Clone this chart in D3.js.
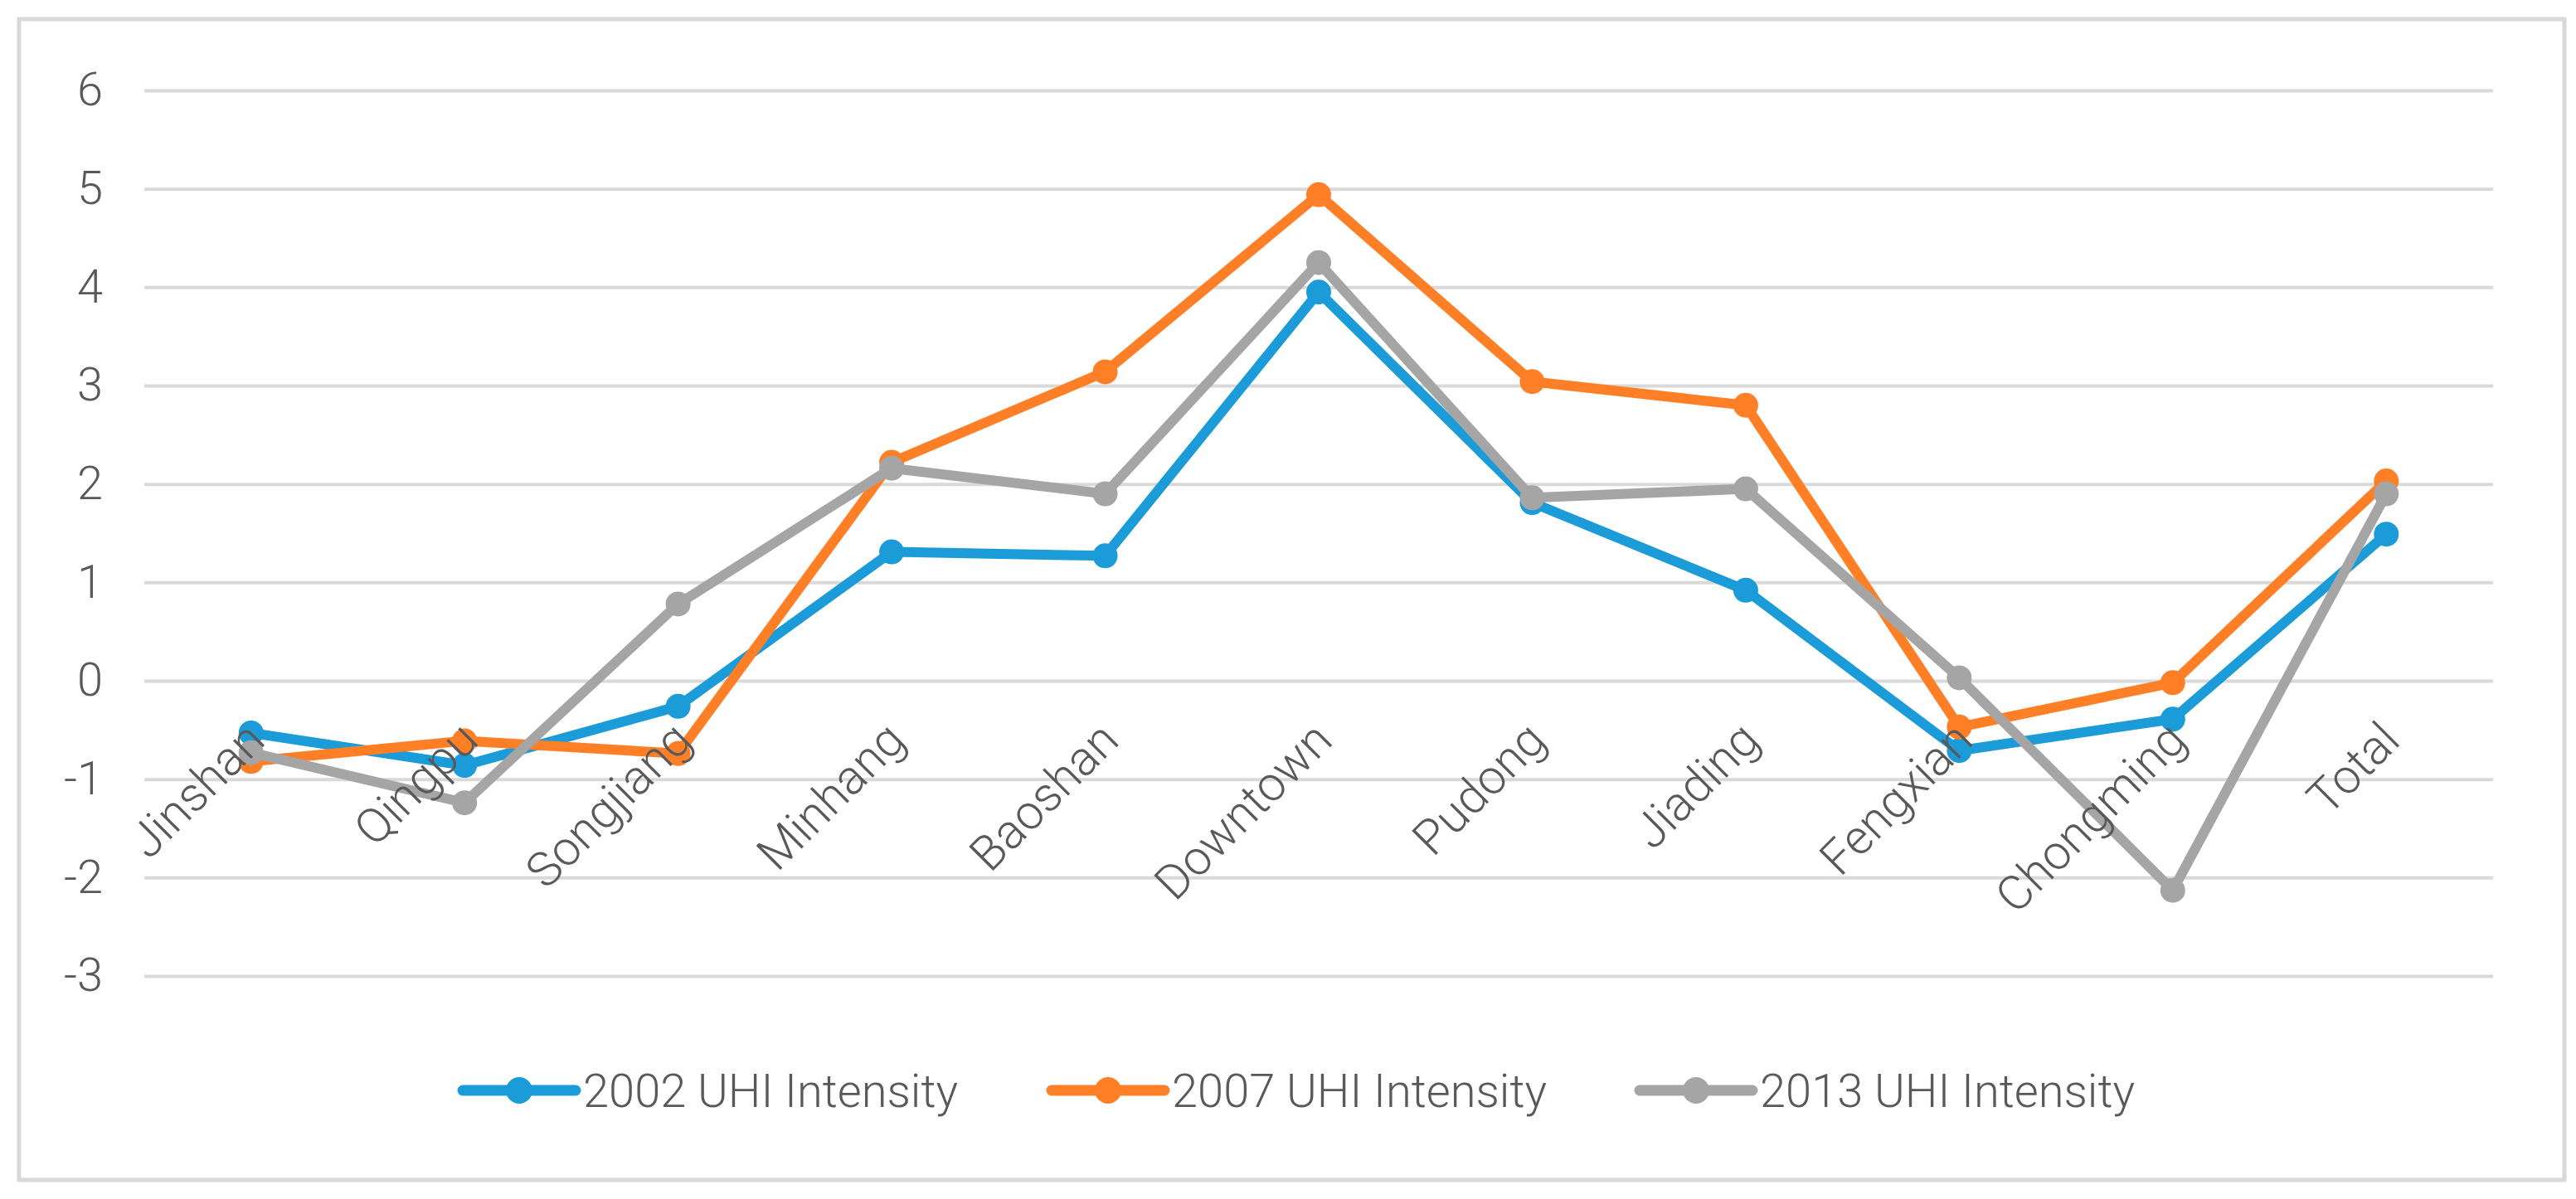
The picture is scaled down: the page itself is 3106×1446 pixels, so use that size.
<html>
<head>
<script src="https://d3js.org/d3.v7.min.js"></script>
<style>
  body { margin: 0; background: #fff; }
  text { font-family: Roboto, "Liberation Sans", sans-serif; font-weight: 300; fill: #595959; }
</style>
</head>
<body>
<script>
// districts along the x axis
var districts = ["Jinshan", "Qingpu", "Songjiang", "Minhang", "Baoshan", "Downtown",
                 "Pudong", "Jiading", "Fengxian", "Chongming", "Total"];
var uhi2002 = [-0.53, -0.86, -0.26, 1.31, 1.27, 3.95, 1.81, 0.92, -0.71, -0.39, 1.49];
var uhi2007 = [-0.82, -0.61, -0.74, 2.22, 3.14, 4.94, 3.04, 2.80, -0.47, -0.02, 2.03];
var uhi2013 = [-0.73, -1.24, 0.78, 2.16, 1.90, 4.25, 1.86, 1.95, 0.03, -2.13, 1.90];
var seriesNames = ["2002 UHI Intensity", "2007 UHI Intensity", "2013 UHI Intensity"];
var seriesColors = ["#1b9bd7", "#ff7f27", "#a5a5a5"];
var yTicks = [-3, -2, -1, 0, 1, 2, 3, 4, 5, 6];

var W = 3106, H = 1446;
var plot = {left: 174, right: 3006, top: 109, bottom: 1177};

var svg = d3.select("body").append("svg")
    .attr("width", W)
    .attr("height", H);

// outer frame
svg.append("rect")
    .attr("x", 23).attr("y", 23)
    .attr("width", 3092 - 23).attr("height", 1423 - 23)
    .attr("fill", "#fff")
    .attr("stroke", "#d9d9d9")
    .attr("stroke-width", 5);

var x = d3.scalePoint()
    .domain(districts)
    .range([plot.left, plot.right])
    .padding(0.5);

var y = d3.scaleLinear()
    .domain([-3, 6])
    .range([plot.bottom, plot.top]);

// gridlines
svg.append("g")
    .attr("transform", "translate(" + plot.left + ",0)")
    .call(d3.axisLeft(y).tickValues(yTicks).tickSize(-(plot.right - plot.left)).tickFormat(""))
    .call(g => g.select(".domain").remove())
    .call(g => g.selectAll("line").attr("stroke", "#d9d9d9").attr("stroke-width", 4));

// y labels
svg.append("g")
    .attr("transform", "translate(" + plot.left + ",0)")
    .call(d3.axisLeft(y).tickValues(yTicks).tickSize(0).tickPadding(50).tickFormat(d => String(d)))
    .call(g => g.select(".domain").remove())
    .call(g => g.selectAll("text")
        .attr("font-size", 56)
        .attr("fill", "#595959")
        .attr("font-family", "Roboto, 'Liberation Sans', sans-serif"));

var all = [uhi2002, uhi2007, uhi2013];

var line = d3.line()
    .x((d, i) => x(districts[i]))
    .y(d => y(d));

var series = svg.selectAll(".series")
    .data(all).enter()
    .append("g")
    .attr("class", "series");

series.append("path")
    .attr("d", line)
    .attr("fill", "none")
    .attr("stroke", (d, i) => seriesColors[i])
    .attr("stroke-width", 12)
    .attr("stroke-linejoin", "round");

series.each(function(vals, si) {
    d3.select(this).selectAll("circle")
        .data(vals).enter()
        .append("circle")
        .attr("cx", (d, i) => x(districts[i]))
        .attr("cy", d => y(d))
        .attr("r", 15)
        .attr("fill", seriesColors[si]);
});

// category labels, rotated, drawn over the lines
svg.append("g")
    .attr("transform", "translate(0," + y(0) + ")")
    .call(d3.axisBottom(x).tickSize(0).tickPadding(0))
    .call(g => g.select(".domain").remove())
    .call(g => g.selectAll("text")
        .attr("font-size", 58)
        .attr("fill", "#595959")
        .attr("font-family", "Roboto, 'Liberation Sans', sans-serif")
        .attr("text-anchor", "end")
        .attr("dy", "0.75em")
        .attr("y", 0)
        .attr("transform", "translate(-12,44) rotate(-45)"));

// legend
var legendX = [558, 1268, 1977];
var legendY = 1315;
var legend = svg.selectAll(".legend")
    .data(seriesNames).enter()
    .append("g")
    .attr("class", "legend")
    .attr("transform", (d, i) => "translate(" + legendX[i] + "," + legendY + ")");

legend.append("line")
    .attr("x1", 0).attr("x2", 136)
    .attr("stroke", (d, i) => seriesColors[i])
    .attr("stroke-width", 13)
    .attr("stroke-linecap", "round");

legend.append("circle")
    .attr("cx", 68).attr("r", 16)
    .attr("fill", (d, i) => seriesColors[i]);

legend.append("text")
    .attr("x", 145)
    .attr("dy", "0.36em")
    .attr("font-size", 56)
    .text(d => d);
</script>
</body>
</html>
